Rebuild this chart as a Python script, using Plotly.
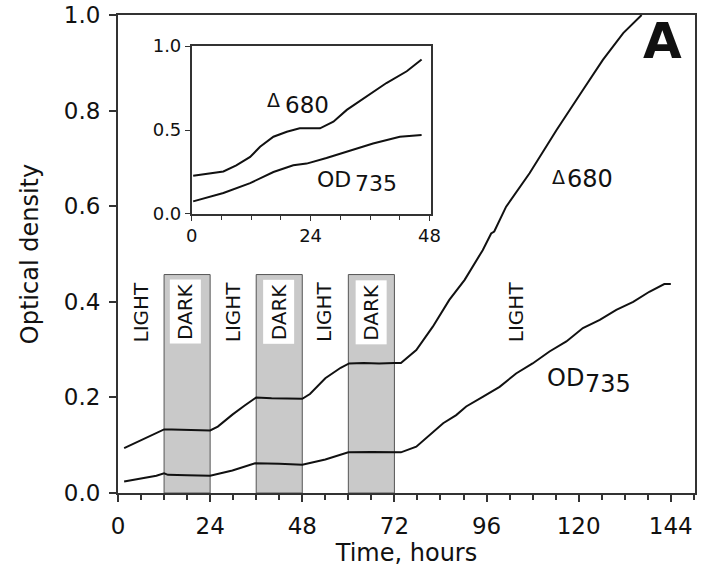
import plotly.graph_objects as go

# ---------------- data ----------------
main_d680_t = [1.6, 4, 6.5, 9, 12, 14, 18, 22, 24, 26, 29.8, 33, 36, 40, 44, 48, 50, 54, 58, 60.2, 64, 68, 72,
               73.7, 77.7, 82, 86.3, 90.3, 95, 97.2, 98, 101.1, 107.2, 114.2, 121.1, 126.3, 131.6, 136.4]
main_d680_v = [0.094, 0.103, 0.114, 0.123, 0.133, 0.133, 0.132, 0.131, 0.131, 0.139, 0.164, 0.183, 0.200,
               0.198, 0.197, 0.197, 0.207, 0.240, 0.262, 0.271, 0.272, 0.271, 0.272,
               0.272, 0.299, 0.348, 0.404, 0.446, 0.508, 0.543, 0.547, 0.599, 0.669, 0.759, 0.843, 0.906, 0.962, 1.0]

main_od_t = [1.6, 6, 10, 12, 13, 18, 24, 29.8, 35.7, 42, 48, 54, 60, 66, 72,
             73.7, 77.7, 81.1, 84.7, 88.1, 90.7, 95, 99.4, 103.7, 108, 112.4, 116.8, 121.1, 125.5,
             129.8, 134.2, 138.4, 142.3, 144]
main_od_v = [0.024, 0.030, 0.036, 0.041, 0.038, 0.037, 0.036, 0.047, 0.062, 0.061, 0.059, 0.070, 0.085,
             0.086, 0.085, 0.085, 0.097, 0.121, 0.146, 0.163, 0.181, 0.201, 0.222, 0.250, 0.271, 0.296,
             0.317, 0.345, 0.362, 0.383, 0.400, 0.421, 0.437, 0.437]

inset_d680_t = [0.3, 6.4, 9, 11.8, 13.8, 16.5, 19.2, 21.8, 25.9, 28.6, 31.3, 35.3, 39.3, 43.4, 46.4]
inset_d680_v = [0.228, 0.253, 0.29, 0.34, 0.40, 0.46, 0.49, 0.51, 0.51, 0.55, 0.62, 0.70, 0.78, 0.85, 0.92]

inset_od_t = [0.3, 6.4, 11.8, 16.5, 20.5, 23.2, 27.2, 31.3, 36.6, 42.0, 46.4]
inset_od_v = [0.075, 0.125, 0.184, 0.25, 0.29, 0.30, 0.333, 0.37, 0.42, 0.46, 0.47]

dark_periods = [(12, 24), (36, 48), (60, 72)]
dark_top = 0.457
light_label_t = [5.9, 29.8, 53.7, 103.5]
dark_label_t = [17.5, 41.8, 65.9]

main_xticks = [0, 24, 48, 72, 96, 120, 144]
main_yticks = [0.0, 0.2, 0.4, 0.6, 0.8, 1.0]
inset_xticks = [0, 24, 48]
inset_yticks = [0.0, 0.5, 1.0]

FONT = "DejaVu Sans"
INK = "#111111"

fig = go.Figure()
line = dict(color=INK, width=2)
fig.add_trace(go.Scatter(x=main_d680_t, y=main_d680_v, mode="lines", line=line, showlegend=False))
fig.add_trace(go.Scatter(x=main_od_t, y=main_od_v, mode="lines", line=line, showlegend=False))
fig.add_trace(go.Scatter(x=inset_d680_t, y=inset_d680_v, mode="lines", line=line,
                         xaxis="x2", yaxis="y2", showlegend=False))
fig.add_trace(go.Scatter(x=inset_od_t, y=inset_od_v, mode="lines", line=line,
                         xaxis="x2", yaxis="y2", showlegend=False))

shapes = []
for a, b in dark_periods:
    shapes.append(dict(type="rect", xref="x", yref="y", x0=a, x1=b, y0=0, y1=dark_top,
                       fillcolor="#c9c9c9", line=dict(color="#555555", width=1), layer="below"))

ann = []
for t in light_label_t:
    ann.append(dict(x=t, y=0.379, xref="x", yref="y", text="LIGHT", textangle=-90, showarrow=False,
                    font=dict(family=FONT, size=20, color=INK)))
for t in dark_label_t:
    ann.append(dict(x=t, y=0.379, xref="x", yref="y", text="DARK", textangle=-90, showarrow=False,
                    bgcolor="white", borderpad=3, font=dict(family=FONT, size=20, color=INK)))

# curve labels, main
ann += [
    dict(x=112.4, y=0.661, xref="x", yref="y", text="Δ", xanchor="left", showarrow=False,
         font=dict(family=FONT, size=19, color=INK)),
    dict(x=116.4, y=0.657, xref="x", yref="y", text="680", xanchor="left", showarrow=False,
         font=dict(family=FONT, size=24, color=INK)),
    dict(x=111.1, y=0.240, xref="x", yref="y", text="OD", xanchor="left", showarrow=False,
         font=dict(family=FONT, size=24, color=INK)),
    dict(x=121.0, y=0.229, xref="x", yref="y", text="735", xanchor="left", showarrow=False,
         font=dict(family=FONT, size=24, color=INK)),
    dict(x=141.9, y=0.946, xref="x", yref="y", text="<b>A</b>", showarrow=False,
         font=dict(family=FONT, size=50, color=INK)),
]
# curve labels, inset
ann += [
    dict(x=14.8, y=0.678, xref="x2", yref="y2", text="Δ", xanchor="left", showarrow=False,
         font=dict(family=FONT, size=19, color=INK)),
    dict(x=18.4, y=0.650, xref="x2", yref="y2", text="680", xanchor="left", showarrow=False,
         font=dict(family=FONT, size=23, color=INK)),
    dict(x=24.9, y=0.205, xref="x2", yref="y2", text="OD", xanchor="left", showarrow=False,
         font=dict(family=FONT, size=22, color=INK)),
    dict(x=32.6, y=0.180, xref="x2", yref="y2", text="735", xanchor="left", showarrow=False,
         font=dict(family=FONT, size=22, color=INK)),
]

axline = dict(showline=True, linecolor="#333333", linewidth=2, mirror=True, showgrid=False,
              zeroline=False, ticks="outside", tickcolor="#333333", tickwidth=1.5,
              automargin=False, ticklabeloverflow="allow")

fig.update_layout(
    width=710, height=569,
    margin=dict(l=118, r=15, t=15, b=76),
    paper_bgcolor="white", plot_bgcolor="white",
    font=dict(family=FONT, color=INK),
    shapes=shapes, annotations=ann,
    xaxis=dict(range=[0, 150.3], tickvals=main_xticks, ticklen=7,
               tickfont=dict(size=23), ticklabelstandoff=4,
               minor=dict(dtick=6, tick0=0, ticks="outside", ticklen=5, tickcolor="#333333"),
               title=dict(text="Time, hours", font=dict(size=24), standoff=6), **axline),
    yaxis=dict(range=[0, 1.0], tickvals=main_yticks, tickformat=".1f", ticklen=7,
               tickfont=dict(size=23), ticklabelstandoff=4,
               title=dict(text="Optical density", font=dict(size=24), standoff=18), **axline),
    xaxis2=dict(domain=[0.1277, 0.5425], anchor="y2", range=[0, 48.3], tickvals=inset_xticks,
                ticklen=5, tickfont=dict(size=18), automargin=False, ticklabeloverflow="allow",
                minor=dict(dtick=6, tick0=0, ticks="outside", ticklen=4, tickcolor="#333333"),
                showline=True, linecolor="#333333", linewidth=1.5, mirror=True, showgrid=False,
                zeroline=False, ticks="outside", tickcolor="#333333"),
    yaxis2=dict(domain=[0.5837, 0.935], anchor="x2", range=[0, 1.0], tickvals=inset_yticks,
                tickformat=".1f", ticklen=5, tickfont=dict(size=18), automargin=False,
                ticklabeloverflow="allow",
                showline=True, linecolor="#333333", linewidth=1.5, mirror=True, showgrid=False,
                zeroline=False, ticks="outside", tickcolor="#333333"),
)

# remove the default 8px page margin so the 710x569 figure fills the window exactly
fig.write_html("out.html", config={"displayModeBar": False},
               post_script="document.body.style.margin='0';")
